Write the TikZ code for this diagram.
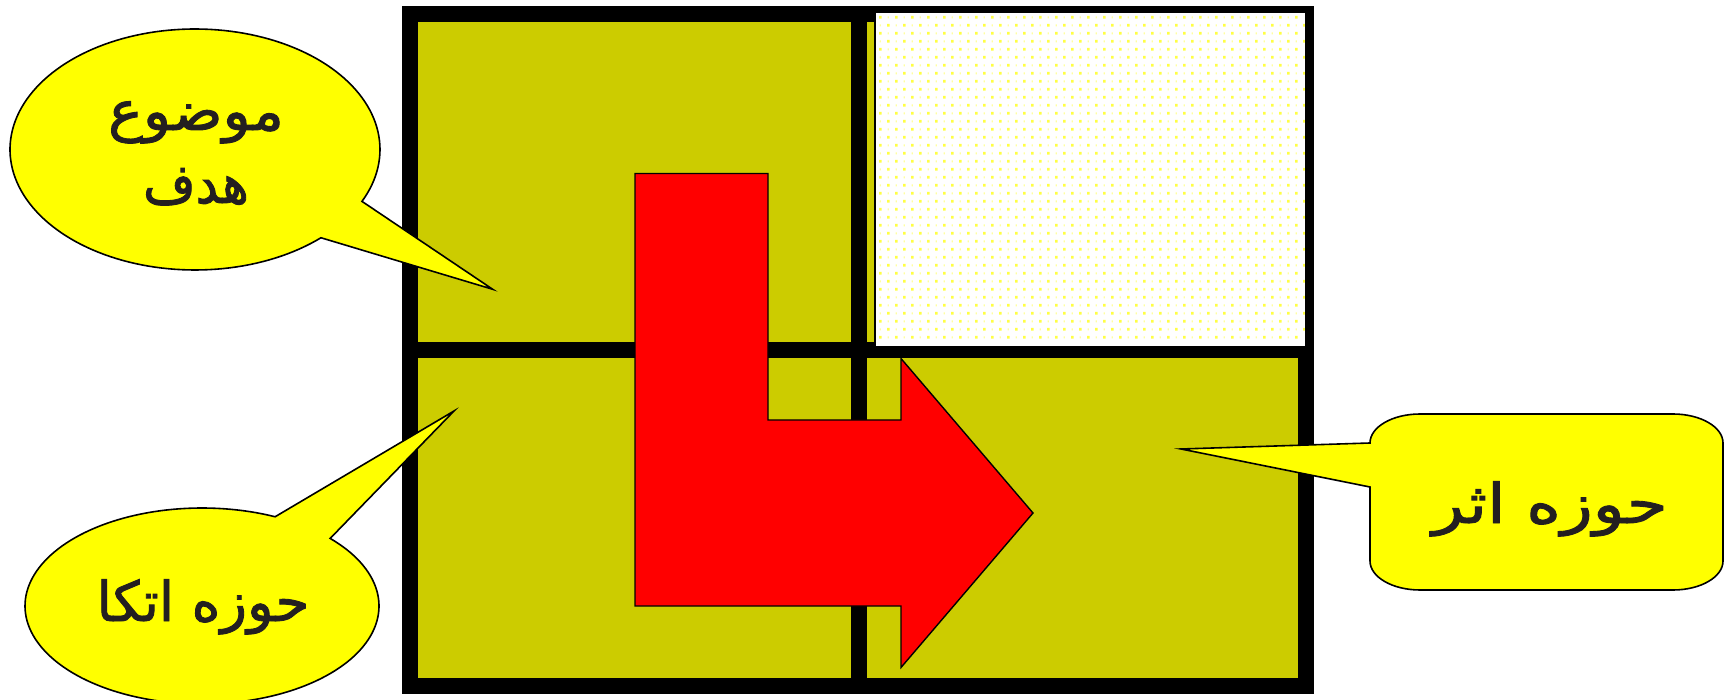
\documentclass[tikz,border=0pt]{standalone}
\usepackage{fontspec}
\usepackage{graphicx}
\newfontfamily\arabicfont[Script=Arabic,FakeBold=1.6]{DejaVu Sans}
\TeXXeTstate=1
\definecolor{cellolive}{HTML}{CCCC00}
\definecolor{calloutyellow}{HTML}{FFFF00}
\definecolor{arrowred}{HTML}{FF0000}
\definecolor{dotbig}{HTML}{FFFF44}
\definecolor{dotsmall}{HTML}{FFFFA0}
\definecolor{textdark}{HTML}{231F20}
\begin{document}
\begin{tikzpicture}[x=1pt,y=-1pt,
  framelines/.style={line width=16pt,black,line join=miter,line cap=butt},
  callout/.style={fill=calloutyellow,draw=black,line width=1.6pt,line join=miter},
  arrowshape/.style={fill=arrowred,draw=black,line width=1.4pt,line join=miter},
  labeltext/.style={text=textdark,inner sep=0pt,anchor=base,font=\arabicfont\fontsize{55}{64}\selectfont}
]
\useasboundingbox (0,0) rectangle (1733,700);
\fill[white] (0,0) rectangle (1733,700);

% grid of four cells
\fill[cellolive] (410,14) rectangle (1306,686);
\draw[framelines] (410,14) rectangle (1306,686);
\draw[framelines] (410,350) -- (1306,350);
\draw[framelines] (859,14) -- (859,686);

% red bent arrow
\draw[arrowshape] (635,173.5) -- (768,173.5) -- (768,420) -- (901,420) -- (901,358.5)
  -- (1033,513) -- (901,667.5) -- (901,606) -- (635,606) -- cycle;

% dotted rectangle top right
\fill[white] (875,12.5) rectangle (1306,347.5);
\fill[dotbig]
  \foreach \i in {0,...,26} { \foreach \j in {0,...,20} { (879+16*\i,16+16*\j) rectangle ++(2.6,2.6) } }
  \foreach \i in {0,...,26} { \foreach \j in {0,...,19} { (887+16*\i,24+16*\j) rectangle ++(2.6,2.6) } };
\fill[dotsmall]
  \foreach \i in {0,...,25} { \foreach \j in {0,...,20} { (887.5+16*\i,16.5+16*\j) rectangle ++(1.4,2) } }
  \foreach \i in {0,...,26} { \foreach \j in {0,...,19} { (879.5+16*\i,24.5+16*\j) rectangle ++(1.4,2) } };
\draw[black,line width=2pt] (875,12.5) rectangle (1306,347.5);

% callout top left (ellipse)
\coordinate (tipA) at (492.7,289.3);
\draw[callout] plot[domain=47.1:385.5,samples=160,variable=\t] ({195+185*cos(\t)},{149.5+120.5*sin(\t)}) -- (tipA) -- cycle;

% callout bottom left (ellipse)
\coordinate (tipB) at (454,411);
\draw[callout] plot[domain=-43.6:294.4,samples=160,variable=\t] ({202+177*cos(\t)},{606+98*sin(\t)}) -- (tipB) -- cycle;

% callout right (rounded rectangle)
\coordinate (tipC) at (1181,449);
\draw[callout] (1370,443) .. controls (1370,427) and (1392.4,414) .. (1420,414)
  -- (1673,414) .. controls (1700.6,414) and (1723,427) .. (1723,443)
  -- (1723,561) .. controls (1723,577) and (1700.6,590) .. (1673,590)
  -- (1420,590) .. controls (1392.4,590) and (1370,577) .. (1370,561)
  -- (1370,487) -- (tipC) -- cycle;

% texts
\node[labeltext] (hadafA) at (196,130) {\scalebox{1.06}[1]{\beginR موضوع\endR}};
\node[labeltext] (hadafB) at (196,203) {\scalebox{0.92}[1]{\beginR هدف\endR}};
\node[labeltext] (etka) at (203,621) {\beginR حوزه اتکا\endR};
\node[labeltext] (asar) at (1550,523) {\scalebox{1.2}[1]{\beginR حوزه اثر\endR}};
\end{tikzpicture}
\end{document}
